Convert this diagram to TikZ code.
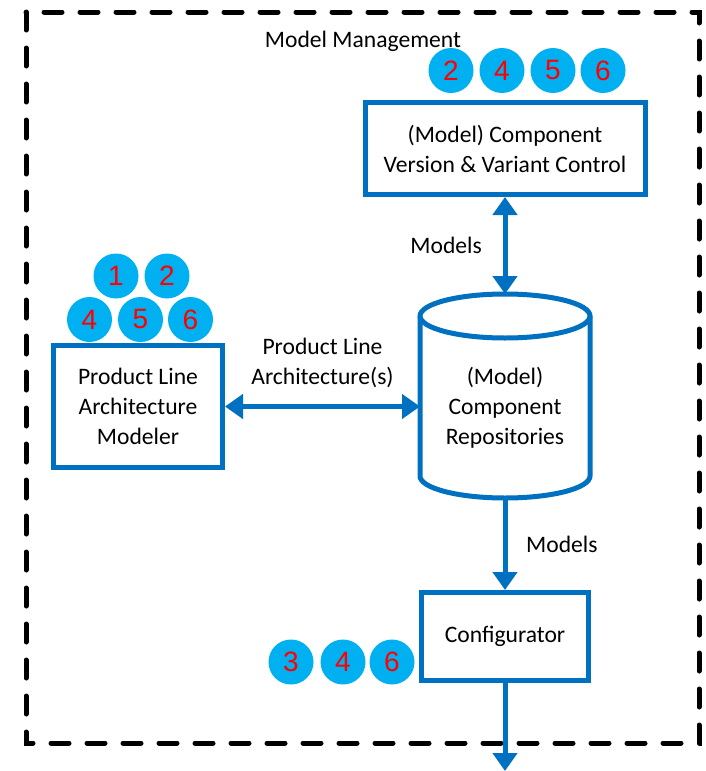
\documentclass[tikz,border=0pt]{standalone}
\usepackage{fontspec}
\setmainfont{Carlito}
\newfontfamily\digitfont{Liberation Sans}
\usetikzlibrary{arrows.meta,positioning}
\definecolor{boxblue}{HTML}{0070C0}
\definecolor{dotblue}{HTML}{00B0F0}

\tikzset{
  blockbox/.style={draw=boxblue, line width=2.5pt, fill=white, align=center, inner sep=0pt},
  num/.style={circle, fill=dotblue, minimum size=22.5pt, inner sep=0pt, text=red,
    font=\digitfont\fontsize{14}{14}\selectfont},
  flow/.style={draw=boxblue, line width=2.5pt, -{Triangle[length=9pt,width=12pt]}},
  both/.style={flow, {Triangle[length=9pt,width=12pt]}-{Triangle[length=9pt,width=12pt]}},
}

\begin{document}
\begin{tikzpicture}[x=0.5pt, y=-0.5pt, font=\fontsize{11.8}{15}\selectfont]
  \useasboundingbox (0,0) rectangle (706,771);
  % frame
  \draw[line width=2.5pt, line cap=round, dash pattern=on 9pt off 9pt] (26,12) rectangle (699,743);
  \node (mm) at (363,41) {Model Management};
  % boxes
  \node[blockbox, minimum width=140pt, minimum height=46pt] (vc) at (505,148.5)
    {(Model) Component\\Version \& Variant Control};
  \node[blockbox, minimum width=84.5pt, minimum height=61pt] (plam) at (138,406.5)
    {Product Line\\Architecture\\Modeler};
  \node[blockbox, minimum width=83.5pt, minimum height=44pt] (conf) at (505,636.5) {Configurator};
  % repository
  \def\rx{85}
  \def\ry{22}
  \filldraw[draw=boxblue, fill=white, line width=2.5pt]
    (420,316) -- (420,476) arc[start angle=180, end angle=0, x radius=\rx, y radius=\ry]
    -- (590,316) arc[start angle=0, end angle=-180, x radius=\rx, y radius=\ry] -- cycle;
  \draw[boxblue, line width=2.5pt] (420,316) arc[start angle=180, end angle=0, x radius=\rx, y radius=\ry];
  \node[align=center] (repo) at (505,407.5) {(Model)\\Component\\Repositories};
  \coordinate (repoN) at (505,294);
  \coordinate (repoS) at (505,498);
  \coordinate (repoW) at (420,406.5);
  \coordinate (out) at (505,771);
  % numbers
  \foreach \n/\x in {2/451,4/502,5/553,6/603}
    \node[num] (vc\n) at (\x,70.5) {\n};
  \foreach \n/\x/\y in {1/116/276,2/167/276,4/89.5/319.5,5/140.5/319.5,6/190.5/319.5}
    \node[num] (plam\n) at (\x,\y) {\n};
  \foreach \n/\x in {3/291,4/343,6/392}
    \node[num] (conf\n) at (\x,662) {\n};
  % connectors
  \draw[both] (vc.south) -- (repoN) node[midway, left=7pt] {Models};
  \draw[both] (plam.east) -- (repoW) node[midway, above=5pt, align=center] {Product Line\\Architecture(s)};
  \draw[flow] (repoS) -- (conf.north) node[midway, right=6pt] {Models};
  \draw[flow] (conf.south) -- (out);
\end{tikzpicture}
\end{document}
